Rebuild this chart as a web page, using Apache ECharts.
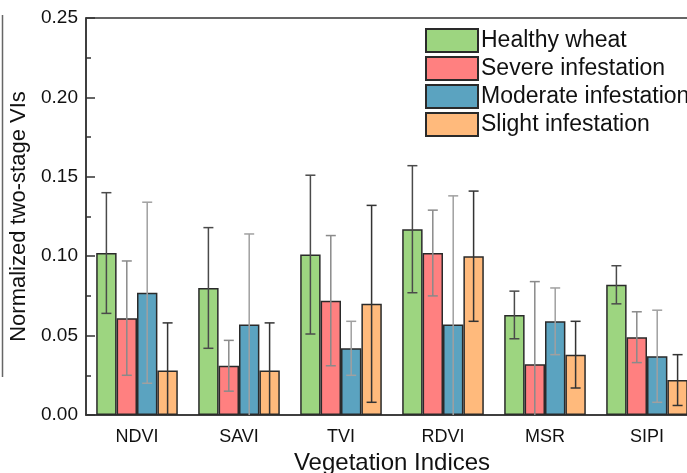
<!DOCTYPE html>
<html><head><meta charset="utf-8">
<script src="https://cdn.jsdelivr.net/npm/echarts@6/dist/echarts.min.js"></script>
<style>html,body{margin:0;padding:0;background:#fff}#c{width:687px;height:473px}</style>
</head><body><div id="c"></div>
<script>
const categories = ['NDVI','SAVI','TVI','RDVI','MSR','SIPI'];
const seriesNames = ['Healthy wheat','Severe infestation','Moderate infestation','Slight infestation'];
const healthy = [0.102,0.080,0.101,0.117,0.063,0.082];
const healthyErr = [0.038,0.038,0.050,0.040,0.015,0.012];
const severe = [0.061,0.031,0.072,0.102,0.032,0.049];
const severeErr = [0.036,0.016,0.041,0.027,0.052,0.016];
const moderate = [0.077,0.057,0.042,0.057,0.059,0.037];
const moderateErr = [0.057,0.057,0.017,0.081,0.021,0.029];
const slight = [0.028,0.028,0.070,0.100,0.038,0.022];
const slightErr = [0.030,0.030,0.062,0.041,0.021,0.016];

const means = [healthy, severe, moderate, slight];
const errs = [healthyErr, severeErr, moderateErr, slightErr];
const colors = ['#9DD580','#FF8080','#5BA3C0','#FFBA7C'];
const errColors = ['#4a4a4a','#8a8a8a','#a0a0a0','#333333'];
const FONT = '"Liberation Sans", Arial, sans-serif';

const series = [];
means.forEach((arr, si) => {
  series.push({
    type: 'bar', name: seriesNames[si], data: arr,
    barCategoryGap: '20%', barGap: '0%',
    itemStyle: {color: colors[si], borderColor: '#2a2a2a', borderWidth: 1.5},
    z: 2
  });
});
means.forEach((arr, si) => {
  series.push({
    type: 'custom', name: 'err' + si, z: 3, silent: true,
    data: arr.map((m, i) => [i, m, errs[si][i]]),
    renderItem: function (params, api) {
      const i = api.value(0), m = api.value(1), e = api.value(2);
      const bw = api.size([1, 0])[0];
      const cx = api.coord([i, 0])[0] - 0.4 * bw + (si + 0.5) * 0.2 * bw;
      const hi = api.coord([i, m + e])[1];
      const loV = m - e;
      const lo = api.coord([i, Math.max(0, loV)])[1];
      const cap = 5;
      const st = {stroke: errColors[si], lineWidth: 1.5};
      const ch = [
        {type: 'line', shape: {x1: cx, y1: hi, x2: cx, y2: lo}, style: st},
        {type: 'line', shape: {x1: cx - cap, y1: hi, x2: cx + cap, y2: hi}, style: st}
      ];
      if (loV > 0) ch.push({type: 'line', shape: {x1: cx - cap, y1: lo, x2: cx + cap, y2: lo}, style: st});
      return {type: 'group', children: ch};
    }
  });
});

const chart = echarts.init(document.getElementById('c'), null, {renderer: 'canvas'});
chart.setOption({
  animation: false,
  backgroundColor: '#fff',
  grid: {left: 86, width: 612, top: 18, height: 397, show: true, borderColor: '#333', borderWidth: 1.5, containLabel: false, outerBoundsMode: 'none'},
  legend: {
    data: seriesNames, orient: 'vertical', left: 425, top: 28, padding: 0,
    itemWidth: 52, itemHeight: 23, itemGap: 3,
    icon: 'rect',
    textStyle: {fontFamily: FONT, fontSize: 23, color: '#111', padding: [0, 0, 0, -2]}
  },
  xAxis: {
    type: 'category', data: categories,
    name: 'Vegetation Indices', nameLocation: 'middle', nameGap: 34,
    nameTextStyle: {fontFamily: FONT, fontSize: 24, color: '#111'},
    axisLine: {lineStyle: {color: '#333', width: 1.5}},
    axisTick: {inside: true, length: 5, lineStyle: {color: '#333', width: 1.5}},
    axisLabel: {fontFamily: FONT, fontSize: 18, color: '#111', margin: 13}
  },
  yAxis: {
    type: 'value', min: 0, max: 0.25, interval: 0.05,
    name: 'Normalized two-stage VIs', nameLocation: 'middle', nameGap: 48,
    nameTextStyle: {fontFamily: FONT, fontSize: 22, color: '#111'},
    axisLine: {show: true, lineStyle: {color: '#333', width: 1.5}},
    axisTick: {show: true, inside: true, length: 9, lineStyle: {color: '#333', width: 1.5}},
    minorTick: {show: true, splitNumber: 2, length: 5, lineStyle: {color: '#333', width: 1.5}},
    splitLine: {show: false},
    axisLabel: {fontFamily: FONT, fontSize: 19, color: '#111', margin: 8, formatter: v => v.toFixed(2)}
  },
  graphic: [{type: 'line', shape: {x1: 2.5, y1: 15, x2: 2.5, y2: 377}, style: {stroke: '#666', lineWidth: 1.5}}],
  series: series
});
</script></body></html>
